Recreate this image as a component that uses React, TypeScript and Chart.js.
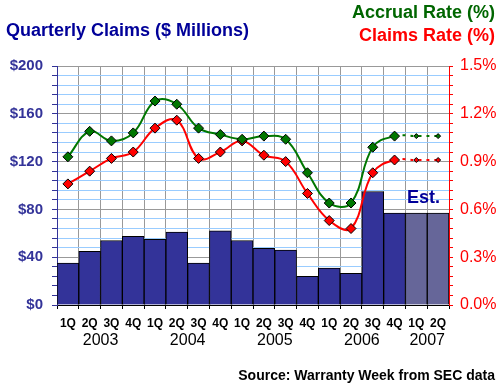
import React, { useEffect, useRef } from "react";
import { Chart, registerables } from "chart.js";

Chart.register(...registerables);

const quarters = ["1Q", "2Q", "3Q", "4Q", "1Q", "2Q", "3Q", "4Q", "1Q", "2Q", "3Q", "4Q", "1Q", "2Q", "3Q", "4Q", "1Q", "2Q"];
const years = ["2003", "2004", "2005", "2006", "2007"];
const claims = [35, 45, 54, 57.5, 55, 61, 35, 62, 54, 47.5, 46, 24, 31, 26.5, 95, 77, 77, 77];
const estimated = [false, false, false, false, false, false, false, false, false, false, false, false, false, false, false, false, true, true];
const accrualRate = [0.93, 1.09, 1.03, 1.08, 1.28, 1.26, 1.11, 1.07, 1.04, 1.06, 1.04, 0.83, 0.64, 0.64, 0.99, 1.06, 1.06, 1.06];
const claimsRate = [0.76, 0.84, 0.92, 0.96, 1.11, 1.16, 0.92, 0.96, 1.03, 0.94, 0.9, 0.7, 0.53, 0.48, 0.83, 0.91, 0.91, 0.91];
const leftTicks = [0, 40, 80, 120, 160, 200];
const rightTicks = [0, 0.3, 0.6, 0.9, 1.2, 1.5];

const FONT = "'Liberation Sans', Arial, sans-serif";
const NAVY_BAR = "#333399";
const EST_BAR = "#666699";
const GREEN = "#007700";
const RED = "#ff0000";

const yearPlugin = {
  id: "yearLabels",
  afterDraw(chart: any) {
    const x = chart.scales.x;
    const ctx = chart.ctx;
    ctx.save();
    ctx.font = `16px ${FONT}`;
    ctx.fillStyle = "#000000";
    ctx.textAlign = "center";
    ctx.textBaseline = "middle";
    years.forEach((yr, i) => {
      const first = i * 4;
      const last = Math.min(first + 3, quarters.length - 1);
      const cx = (x.getPixelForValue(first) + x.getPixelForValue(last)) / 2;
      ctx.fillText(yr, cx, 341);
    });
    ctx.restore();
  },
};

export default function App() {
  const ref = useRef<HTMLCanvasElement | null>(null);

  useEffect(() => {
    document.body.style.margin = "0";
    const canvas = ref.current!;
    const isLeftMajor = (v: number) => leftTicks.some((t) => Math.abs(t - v) < 1e-6);
    const isRightMajor = (v: number) => rightTicks.some((t) => Math.abs(t - v) < 1e-6);
    const dashAfter = 15;

    const chart = new Chart(canvas, {
      type: "bar",
      data: {
        labels: quarters,
        datasets: [
          {
            type: "line",
            label: "Accrual Rate (%)",
            data: accrualRate,
            yAxisID: "y1",
            borderColor: GREEN,
            borderWidth: 2,
            tension: 0.4,
            pointStyle: "rectRot",
            pointRadius: accrualRate.map((_, i) => (i > dashAfter ? 2.5 : 5)),
            pointBackgroundColor: GREEN,
            pointBorderColor: "#000000",
            pointBorderWidth: 1,
            segment: {
              borderDash: (c: any) => (c.p0DataIndex >= dashAfter ? [3, 5] : undefined),
            },
            order: 0,
          } as any,
          {
            type: "line",
            label: "Claims Rate (%)",
            data: claimsRate,
            yAxisID: "y1",
            borderColor: RED,
            borderWidth: 2,
            tension: 0.4,
            pointStyle: "rectRot",
            pointRadius: claimsRate.map((_, i) => (i > dashAfter ? 2.5 : 5)),
            pointBackgroundColor: RED,
            pointBorderColor: "#000000",
            pointBorderWidth: 1,
            segment: {
              borderDash: (c: any) => (c.p0DataIndex >= dashAfter ? [3, 5] : undefined),
            },
            order: 1,
          } as any,
          {
            type: "bar",
            label: "Quarterly Claims ($ Millions)",
            data: claims,
            yAxisID: "y",
            backgroundColor: estimated.map((e) => (e ? EST_BAR : NAVY_BAR)),
            borderColor: "#000000",
            borderWidth: { top: 1, left: 1, right: 1, bottom: 0 },
            borderSkipped: false,
            barPercentage: 1,
            categoryPercentage: 1,
            order: 2,
          } as any,
        ],
      },
      options: {
        responsive: false,
        animation: false,
        layout: { padding: { top: 66 } },
        plugins: { legend: { display: false }, tooltip: { enabled: false }, title: { display: false } },
        scales: {
          x: {
            offset: true,
            grid: {
              offset: true,
              color: "#999999",
              lineWidth: 1,
              tickColor: "#000000",
              tickLength: 4,
              drawTicks: true,
            },
            border: { color: "#000000", width: 1 },
            ticks: {
              autoSkip: false,
              maxRotation: 0,
              minRotation: 0,
              color: "#000000",
              font: { family: FONT, size: 12, weight: "bold" },
              padding: 7,
            },
            afterFit: (s: any) => {
              s.height = 82;
            },
          },
          y: {
            position: "left",
            min: 0,
            max: 200,
            afterBuildTicks: (s: any) => {
              const t = [];
              for (let i = 0; i <= 25; i++) t.push({ value: i * 8 });
              s.ticks = t;
            },
            grid: {
              color: (c: any) => (isLeftMajor(c.tick.value) ? "#999999" : "#99ccff"),
              tickColor: NAVY_BAR,
              tickLength: 5,
              lineWidth: 1,
            },
            border: { color: NAVY_BAR, width: 1 },
            ticks: {
              autoSkip: false,
              color: NAVY_BAR,
              font: { family: FONT, size: 15, weight: "bold" },
              padding: 9,
              callback: (v: any) => (isLeftMajor(Number(v)) ? "$" + Number(v) : ""),
            },
            afterFit: (s: any) => {
              s.width = 57;
            },
          },
          y1: {
            position: "right",
            min: 0,
            max: 1.5,
            afterBuildTicks: (s: any) => {
              const t = [];
              for (let i = 0; i <= 25; i++) t.push({ value: i * 0.06 });
              s.ticks = t;
            },
            grid: {
              drawOnChartArea: false,
              tickColor: RED,
              tickLength: 4,
            },
            border: { color: RED, width: 1 },
            ticks: {
              autoSkip: false,
              color: RED,
              font: { family: FONT, size: 16 },
              padding: 7,
              callback: (v: any) => (isRightMajor(Number(v)) ? Number(v).toFixed(1) + "%" : ""),
            },
            afterFit: (s: any) => {
              s.width = 51;
            },
          },
        },
      },
      plugins: [yearPlugin],
    });

    return () => chart.destroy();
  }, []);

  const textBase: React.CSSProperties = {
    position: "absolute",
    fontFamily: FONT,
    fontWeight: "bold",
    whiteSpace: "nowrap",
    lineHeight: 1,
  };

  return (
    <div style={{ position: "relative", width: 500, height: 387, background: "#ffffff", overflow: "hidden" }}>
      <canvas ref={ref} width={500} height={387} style={{ display: "block", width: 500, height: 387 }} />
      <div style={{ ...textBase, left: 6, top: 21, fontSize: 18, color: "#000099" }}>Quarterly Claims ($ Millions)</div>
      <div style={{ ...textBase, right: 5, top: 3, fontSize: 18, color: "#006600" }}>Accrual Rate (%)</div>
      <div style={{ ...textBase, right: 5, top: 26, fontSize: 18, color: RED }}>Claims Rate (%)</div>
      <div style={{ ...textBase, left: 407, top: 188, fontSize: 18, color: "#000099" }}>Est.</div>
      <div style={{ ...textBase, right: 5, top: 368, fontSize: 14, color: "#000000" }}>Source: Warranty Week from SEC data</div>
    </div>
  );
}
